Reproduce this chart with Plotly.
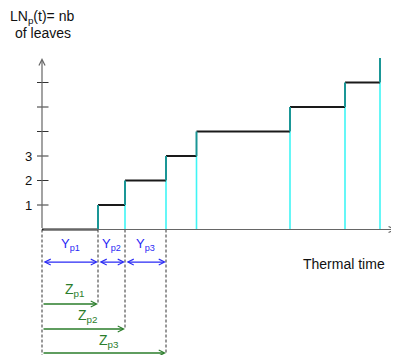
import plotly.graph_objects as go

# ---- data ----
step_times = [0, 56, 83, 124, 154.5, 248, 303, 338]   # thermal time at each leaf appearance
leaf_counts = [0, 1, 2, 3, 4, 5, 6, 7]
y_tick_vals = [1, 2, 3, 4, 5, 6]
y_tick_labels = ["1", "2", "3", "", "", ""]
phyllochron_labels = ["Y<sub>p1</sub>", "Y<sub>p2</sub>", "Y<sub>p3</sub>"]
cumul_labels = ["Z<sub>p1</sub>", "Z<sub>p2</sub>", "Z<sub>p3</sub>"]

FONT = "Arial, Liberation Sans, sans-serif"
BLACK = "#1a1a1a"
TEAL = "#1a9696"
CYAN = "#3ff5f5"
BLUE = "#2a2af5"
GREEN = "#2b7d2b"
AXIS = "#666666"

fig = go.Figure()

def seg(x0, y0, x1, y1, color, width, dash=None):
    fig.add_trace(go.Scatter(x=[x0, x1], y=[y0, y1], mode="lines",
                             line=dict(color=color, width=width, dash=dash),
                             hoverinfo="skip", showlegend=False))

# cyan verticals from axis up to previous level
for i in range(1, len(step_times)):
    seg(step_times[i], 0, step_times[i], leaf_counts[i - 1], CYAN, 1.6)

# horizontal plateaus
for i in range(len(step_times) - 1):
    seg(step_times[i], leaf_counts[i], step_times[i + 1], leaf_counts[i], BLACK, 2)

# teal rising parts
for i in range(1, len(step_times)):
    seg(step_times[i], leaf_counts[i - 1], step_times[i], leaf_counts[i], TEAL, 2)

# y ticks crossing the axis
for v in y_tick_vals:
    seg(-5, v, 6.5, v, "#333333", 1)

# dashed guide lines under axis
y_blue = -1.33
y_green = [-3.04, -4.06, -5.04]
seg(step_times[0], 0, step_times[0], -5.2, "#333333", 1, "3px,2px")
for k in range(3):
    seg(step_times[k + 1], 0, step_times[k + 1], y_green[k], "#333333", 1, "3px,2px")

annotations = []
# axes with arrows
annotations.append(dict(x=step_times[0], y=7.0, ax=step_times[0], ay=0, xref="x", yref="y",
                        axref="x", ayref="y", showarrow=True, arrowhead=5, arrowsize=1,
                        arrowwidth=1.2, arrowcolor=AXIS, text="", standoff=0, startstandoff=0))
annotations.append(dict(x=354, y=0, ax=step_times[0], ay=0, xref="x", yref="y",
                        axref="x", ayref="y", showarrow=True, arrowhead=5, arrowsize=1,
                        arrowwidth=1.2, arrowcolor=AXIS, text="", standoff=0, startstandoff=0))

# tick labels
for v, lab in zip(y_tick_vals, y_tick_labels):
    if lab:
        annotations.append(dict(x=-8, y=v, xref="x", yref="y", text=lab, showarrow=False,
                                xanchor="right", yanchor="middle",
                                font=dict(family=FONT, size=13, color="#111111")))

# phyllochron arrows (blue, double headed)
for k in range(3):
    annotations.append(dict(x=step_times[k + 1], y=y_blue, ax=step_times[k], ay=y_blue,
                            xref="x", yref="y", axref="x", ayref="y", showarrow=True,
                            arrowhead=5, startarrowhead=5, arrowside="end+start",
                            arrowsize=0.9, startarrowsize=0.9, arrowwidth=1.3,
                            arrowcolor=BLUE, text="", standoff=0, startstandoff=0))
    annotations.append(dict(x=(step_times[k] + step_times[k + 1]) / 2, y=-0.6, xref="x", yref="y",
                            text=phyllochron_labels[k], showarrow=False,
                            font=dict(family=FONT, size=13, color=BLUE)))

# cumulative arrows (green)
z_label_x = [32, 45, 67]
z_label_y = [-2.46, -3.52, -4.54]
for k in range(3):
    annotations.append(dict(x=step_times[k + 1], y=y_green[k], ax=step_times[0], ay=y_green[k],
                            xref="x", yref="y", axref="x", ayref="y", showarrow=True,
                            arrowhead=5, arrowsize=0.9, arrowwidth=1.3,
                            arrowcolor=GREEN, text="", standoff=0, startstandoff=0))
    annotations.append(dict(x=z_label_x[k], y=z_label_y[k], xref="x", yref="y",
                            text=cumul_labels[k], showarrow=False,
                            font=dict(family=FONT, size=14, color=GREEN)))

# titles
annotations.append(dict(x=0, y=8.66, xref="x", yref="y", text="LN<sub>p</sub>(t)= nb",
                        showarrow=False, font=dict(family=FONT, size=14, color="#111111")))
annotations.append(dict(x=1, y=8.03, xref="x", yref="y", text="of leaves",
                        showarrow=False, font=dict(family=FONT, size=14, color="#111111")))
annotations.append(dict(x=301.5, y=-1.39, xref="x", yref="y", text="Thermal time",
                        showarrow=False, font=dict(family=FONT, size=14, color="#111111")))

# the page body adds an 8 px offset, so the figure covers page pixels 8..399 x 8..355
fig.update_layout(
    width=391, height=347,
    margin=dict(l=0, r=0, t=0, b=0),
    paper_bgcolor="white", plot_bgcolor="white",
    xaxis=dict(range=[-34, 357], visible=False, fixedrange=True),
    yaxis=dict(range=[-5.122, 9.041], visible=False, fixedrange=True),
    annotations=annotations,
    showlegend=False,
)

fig.write_html("out.html")
